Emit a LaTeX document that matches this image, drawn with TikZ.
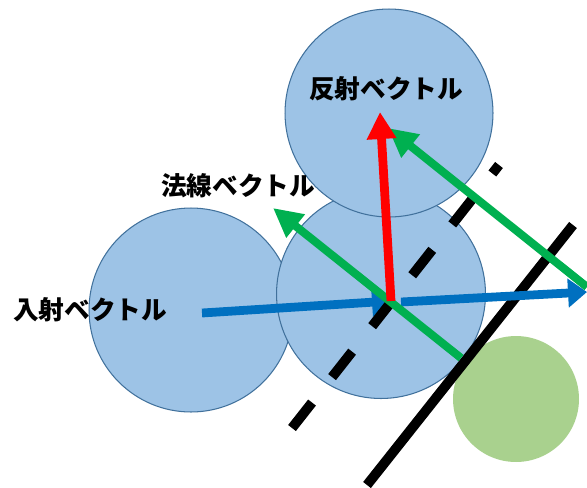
\documentclass[tikz,border=0pt]{standalone}
\usepackage{fontspec}
\usepackage{xcolor}
\usepackage{tikz}
\usetikzlibrary{arrows.meta}
\newfontfamily\cjk{Noto Sans CJK JP}
\definecolor{ballblue}{HTML}{9DC3E6}
\definecolor{edgeblue}{HTML}{41719C}
\definecolor{ballgreen}{HTML}{A9D18E}
\definecolor{vecblue}{HTML}{0070C0}
\definecolor{vecgreen}{HTML}{00B050}
\definecolor{vecred}{HTML}{FF0000}

\begin{document}
\begin{tikzpicture}[x=0.02cm, y=-0.02cm,
  ball/.style={circle, fill=ballblue, draw=edgeblue, line width=0.6pt, inner sep=0pt},
  bluevec/.style={vecblue, line width=5pt, -{Triangle[length=0.38cm, width=0.56cm]}},
  greenvec/.style={vecgreen, line width=4.6pt, -{Triangle[length=0.58cm, width=0.56cm]}},
  redvec/.style={vecred, line width=5pt, -{Triangle[length=0.54cm, width=0.56cm]}},
  vtext/.style={font=\cjk\bfseries\fontsize{14.6pt}{16pt}\selectfont}]
  \useasboundingbox (0,0) rectangle (587,487);

  % Kugeln
  \node[ball, minimum size=4.08cm] (leftball) at (191,310) {};
  \node[ball, minimum size=4.18cm] (midball) at (381,294) {};
  \node[ball, minimum size=4.16cm] (topball) at (389,113) {};
  \node[circle, fill=ballgreen, inner sep=0pt, minimum size=2.52cm] (wallball) at (516,399) {};

  % Wand
  \coordinate (wallA) at (367,485);
  \coordinate (wallB) at (573,225);
  \draw[line width=5.6pt] (wallA) -- (wallB);

  % Auftreffpunkt
  \coordinate (P) at (391,301);

  % einfallender und weiterlaufender Strahl
  \coordinate (inStart) at (202,313);
  \coordinate (outStart) at (401,302);
  \coordinate (outEnd) at (587,292);
  \draw[bluevec] (inStart) -- (P);
  \draw[bluevec] (outStart) -- (outEnd);

  % parallele Hilfslinie durch P
  \coordinate (dashA) at (292,428);
  \coordinate (dashB) at (499,165);
  \draw[line width=5.6pt, dash pattern=on 0.648cm off 0.648cm] (dashA) -- (dashB);

  % Normalen
  \coordinate (contact) at (461,358);
  \coordinate (nTip) at (273,208);
  \draw[greenvec] (contact) -- (nTip);
  \coordinate (gStart) at (587,287);
  \coordinate (gTip) at (388,128);
  \draw[greenvec] (gStart) -- (gTip);

  % reflektierter Strahl
  \coordinate (rTip) at (380,112);
  \draw[redvec] (P) -- (rTip);

  % Beschriftung
  \node[vtext] (reflLabel) at (386,89) {反射ベクトル};
  \node[vtext] (inLabel) at (90,310) {入射ベクトル};
  \node[vtext] (normLabel) at (238,186) {法線ベクトル};
\end{tikzpicture}
\end{document}
